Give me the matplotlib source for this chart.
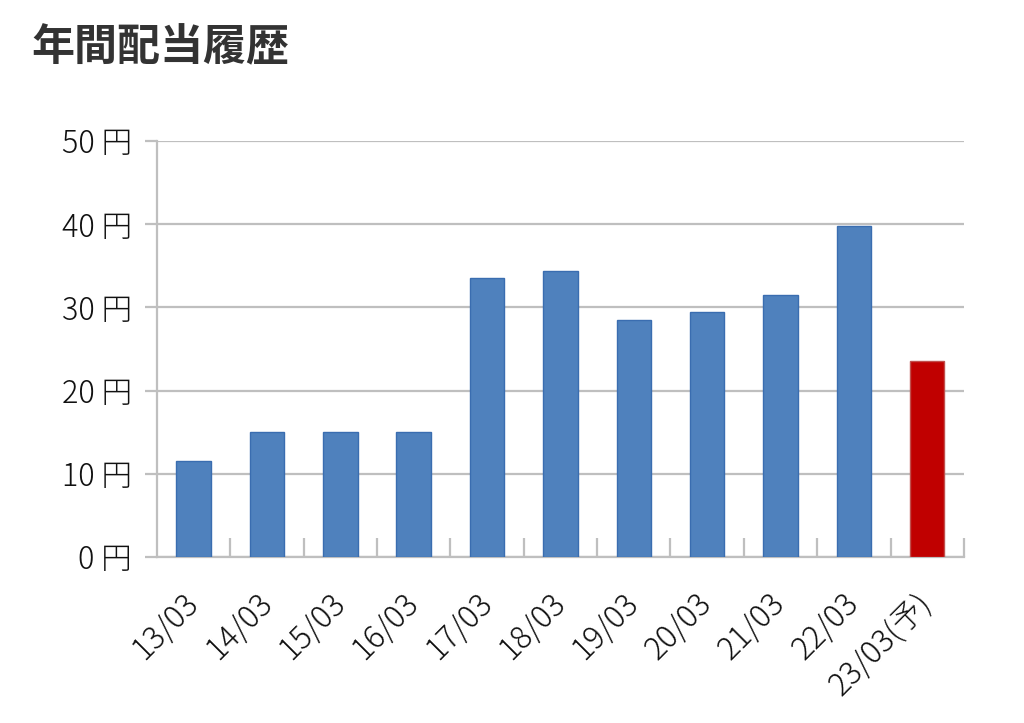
import matplotlib
matplotlib.use("Agg")
import matplotlib.pyplot as plt
import numpy as np

plt.rcParams["font.family"] = ["Noto Sans CJK JP", "DejaVu Sans"]

# 年間配当（円）
periods = ["13/03", "14/03", "15/03", "16/03", "17/03", "18/03",
           "19/03", "20/03", "21/03", "22/03", "23/03(予)"]
dividends = [11.5, 15, 15, 15, 33.5, 34.4, 28.5, 29.5, 31.5, 39.8, 23.6]
is_forecast = [False] * 10 + [True]
y_ticks = [0, 10, 20, 30, 40, 50]

grid_c = "#BFBFBF"
colors = ["#C00000" if f else "#4F81BD" for f in is_forecast]
edges = ["#C0504D" if f else "#3A6DB0" for f in is_forecast]

fig = plt.figure(figsize=(10.24, 7.23), dpi=100)
ax = fig.add_axes([0.1533, 0.2296, 0.788, 0.5754])

x = np.arange(len(periods))
ax.bar(x, dividends, width=0.47, color=colors, edgecolor=edges, linewidth=1, zorder=3)

ax.set_xlim(-0.5, len(periods) - 0.5)
ax.set_ylim(0, 50)
ax.set_yticks(y_ticks)
ax.set_yticklabels([f"{v} 円" for v in y_ticks], fontsize=22, fontweight="light",
                   color="#111111")
ax.yaxis.grid(True, color=grid_c, linewidth=1.6, zorder=0)
ax.tick_params(axis="y", length=9, width=1.6, color=grid_c, pad=9)

ax.set_xticks(x)
ax.set_xticklabels(periods, rotation=45, ha="right", va="center", rotation_mode="anchor",
                   fontsize=22.5, fontweight="light", color="#111111")
ax.tick_params(axis="x", which="major", length=0, pad=30)
ax.set_xticks(np.arange(0.5, len(periods), 1.0), minor=True)
ax.tick_params(axis="x", which="minor", direction="in", length=14, width=1.6, color=grid_c)

for side in ["top", "right"]:
    ax.spines[side].set_visible(False)
for side in ["left", "bottom"]:
    ax.spines[side].set_color(grid_c)
    ax.spines[side].set_linewidth(1.6)

fig.text(0.031, 0.935, "年間配当履歴", fontsize=31, fontweight="bold",
         color="#333333", ha="left", va="center")

fig.savefig("out.png", dpi=100, facecolor="white")
